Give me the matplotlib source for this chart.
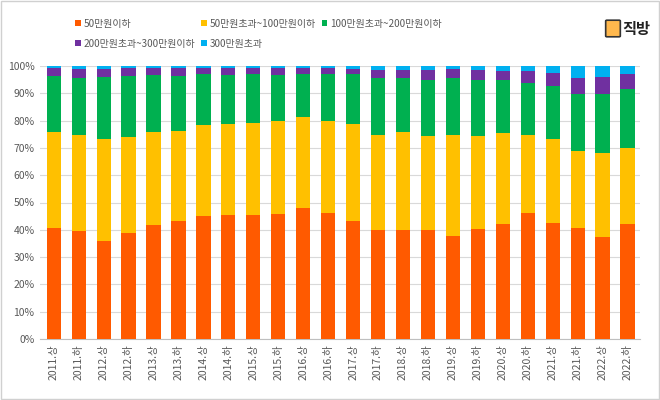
import numpy as np
import matplotlib.pyplot as plt
from matplotlib.patches import Rectangle, FancyBboxPatch

plt.rcParams['font.family'] = ['Noto Sans CJK KR', 'DejaVu Sans']

periods = ['2011.상', '2011.하', '2012.상', '2012.하', '2013.상', '2013.하',
           '2014.상', '2014.하', '2015.상', '2015.하', '2016.상', '2016.하',
           '2017.상', '2017.하', '2018.상', '2018.하', '2019.상', '2019.하',
           '2020.상', '2020.하', '2021.상', '2021.하', '2022.상', '2022.하']

# cumulative tops (%)
top_50 = [40.7, 39.4, 35.9, 39.0, 41.8, 43.2, 45.0, 45.4, 45.4, 45.7, 48.0, 46.3,
          43.2, 39.8, 39.8, 39.8, 37.7, 40.4, 42.2, 46.0, 42.6, 40.7, 37.3, 42.2]
top_100 = [75.8, 74.6, 73.2, 73.9, 75.8, 76.3, 78.3, 78.7, 79.0, 79.8, 81.2, 79.8,
           78.7, 74.9, 75.8, 74.3, 74.6, 74.3, 75.3, 74.6, 73.2, 68.7, 68.3, 70.0]
top_200 = [96.2, 95.6, 95.9, 96.2, 96.6, 96.2, 97.0, 96.6, 97.0, 96.6, 97.0, 97.0,
           97.0, 95.5, 95.5, 94.8, 95.6, 94.8, 94.8, 93.8, 92.6, 89.9, 89.9, 91.6]
top_300 = [99.3, 99.0, 98.8, 99.3, 99.3, 99.3, 99.3, 99.3, 99.3, 99.3, 99.3, 99.3,
           99.0, 98.5, 98.5, 98.5, 99.0, 98.5, 98.3, 98.3, 97.4, 95.5, 95.9, 97.0]

labels = ['50만원이하', '50만원초과~100만원이하', '100만원초과~200만원이하',
          '200만원초과~300만원이하', '300만원초과']
colors = ['#FF5A00', '#FFC000', '#00B050', '#7030A0', '#00B0F0']

tops = np.array([top_50, top_100, top_200, top_300, [100.0] * len(periods)]) / 100
bottoms = np.vstack([np.zeros(len(periods)), tops[:-1]])

fig = plt.figure(figsize=(6.6, 4), dpi=100)
ax = fig.add_axes([40 / 660, 61 / 400, 600 / 660, 273 / 400])

x = np.arange(len(periods))
handles = []
for i in range(5):
    h = ax.bar(x, tops[i] - bottoms[i], bottom=bottoms[i], width=0.57,
               color=colors[i], label=labels[i], zorder=3)
    handles.append(h)

ax.set_ylim(0, 1)
ax.set_xlim(-0.55, len(periods) - 0.5)
ax.set_yticks(np.arange(0, 1.01, 0.1))
ax.set_yticklabels([f'{int(v)}%' for v in np.arange(0, 101, 10)])
ax.set_xticks(x)
ax.set_xticklabels(periods, rotation=90)
ax.tick_params(axis='both', length=0, labelsize=7.5, labelcolor='#595959', pad=4)
ax.grid(axis='y', color='#d9d9d9', linewidth=0.8, zorder=0)
for s in ['top', 'right', 'left']:
    ax.spines[s].set_visible(False)
ax.spines['bottom'].set_color('#bfbfbf')

# legend fills column-wise, so reorder to read row-wise
order = [0, 3, 1, 4, 2]
leg = fig.legend(handles=[handles[i] for i in order], labels=[labels[i] for i in order],
                 ncol=3, loc='upper left',
                 bbox_to_anchor=(66 / 660, 1 - 10 / 400), frameon=False,
                 fontsize=7.2, handlelength=0.55, handleheight=0.55,
                 handletextpad=0.3, columnspacing=0.6, labelspacing=0.95)
for t in leg.get_texts():
    t.set_color('#595959')

# logo
fig.patches.append(FancyBboxPatch((607 / 660, 1 - 36 / 400), 12 / 660, 15 / 400,
                                  boxstyle='round,pad=0.002', transform=fig.transFigure,
                                  facecolor='#FFB84D', edgecolor='#333333', linewidth=1.2))
fig.text(622 / 660, 1 - 29 / 400, '직방', fontsize=11, fontweight='bold',
         color='#222222', va='center', ha='left')

# outer frame
fig.patches.append(Rectangle((0.001, 0.002), 0.997, 0.995, transform=fig.transFigure,
                             fill=False, edgecolor='#d0d0d0', linewidth=1))

fig.savefig('out.png', dpi=100)
